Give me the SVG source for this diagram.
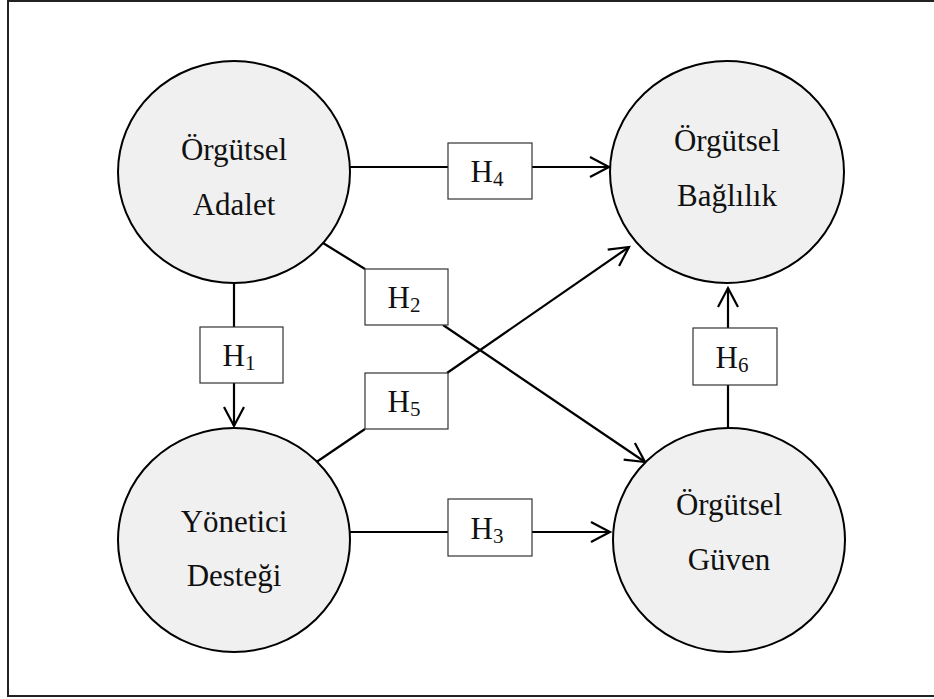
<svg xmlns="http://www.w3.org/2000/svg" width="934" height="699" viewBox="0 0 934 699">
<defs>
<marker id="arr" markerWidth="24" markerHeight="24" refX="20" refY="11" orient="auto" markerUnits="userSpaceOnUse">
<path d="M1,1 L20,11 L1,21" fill="none" stroke="#000" stroke-width="2.2"/>
</marker>
<style>
.node ellipse{fill:#f0f0f0;stroke:#000;stroke-width:2}
.lbl{font-family:"Liberation Serif","Times New Roman",serif;font-size:31px;fill:#111;text-anchor:middle}
.box rect{fill:#fff;stroke:#333;stroke-width:1.2}
.h{font-family:"Liberation Serif","Times New Roman",serif;font-size:31px;fill:#111;text-anchor:middle}
.sub{font-size:21px}
.con line,.con polyline{stroke:#000;stroke-width:2.2;fill:none}
</style>
</defs>
<rect x="8" y="1" width="940" height="695" fill="#fff" stroke="#222" stroke-width="2"/>
<g id="connectors" class="con">
<line x1="350" y1="167" x2="448" y2="167"/>
<line x1="532" y1="167" x2="609" y2="167" marker-end="url(#arr)"/>
<line x1="234" y1="283" x2="234" y2="327"/>
<line x1="234" y1="383" x2="234" y2="426" marker-end="url(#arr)"/>
<line x1="349" y1="532" x2="448" y2="532"/>
<line x1="532" y1="532" x2="610" y2="532" marker-end="url(#arr)"/>
<line x1="728" y1="428" x2="728" y2="385"/>
<line x1="728" y1="328" x2="728" y2="288" marker-end="url(#arr)"/>
<line x1="323" y1="243" x2="365" y2="269"/>
<line x1="443" y1="325" x2="645" y2="462" marker-end="url(#arr)"/>
<line x1="315" y1="463" x2="365" y2="429"/>
<line x1="447" y1="373" x2="629" y2="247" marker-end="url(#arr)"/>
</g>
<g id="node-adalet" class="node">
<ellipse cx="234" cy="172" rx="116" ry="111"/>
<text class="lbl" x="234" y="160">Örgütsel</text>
<text class="lbl" x="234" y="215">Adalet</text>
</g>
<g id="node-baglilik" class="node">
<ellipse cx="727" cy="172" rx="117" ry="111"/>
<text class="lbl" x="727" y="151">Örgütsel</text>
<text class="lbl" x="727" y="206">Bağlılık</text>
</g>
<g id="node-yonetici" class="node">
<ellipse cx="234" cy="540" rx="116" ry="112"/>
<text class="lbl" x="234" y="532">Yönetici</text>
<text class="lbl" x="234" y="586">Desteği</text>
</g>
<g id="node-guven" class="node">
<ellipse cx="729" cy="540" rx="116" ry="112"/>
<text class="lbl" x="729" y="515">Örgütsel</text>
<text class="lbl" x="729" y="570">Güven</text>
</g>
<g id="box-h4" class="box">
<rect x="448" y="143" width="84" height="56"/>
<text class="h" x="487" y="182">H<tspan class="sub" dy="4">4</tspan></text>
</g>
<g id="box-h2" class="box">
<rect x="365" y="269" width="83" height="56"/>
<text class="h" x="404" y="308">H<tspan class="sub" dy="4">2</tspan></text>
</g>
<g id="box-h1" class="box">
<rect x="200" y="327" width="83" height="56"/>
<text class="h" x="239" y="366">H<tspan class="sub" dy="4">1</tspan></text>
</g>
<g id="box-h5" class="box">
<rect x="365" y="373" width="83" height="56"/>
<text class="h" x="404" y="412">H<tspan class="sub" dy="4">5</tspan></text>
</g>
<g id="box-h6" class="box">
<rect x="693" y="328" width="84" height="57"/>
<text class="h" x="732" y="368">H<tspan class="sub" dy="4">6</tspan></text>
</g>
<g id="box-h3" class="box">
<rect x="448" y="499" width="84" height="57"/>
<text class="h" x="487" y="539">H<tspan class="sub" dy="4">3</tspan></text>
</g>
</svg>
